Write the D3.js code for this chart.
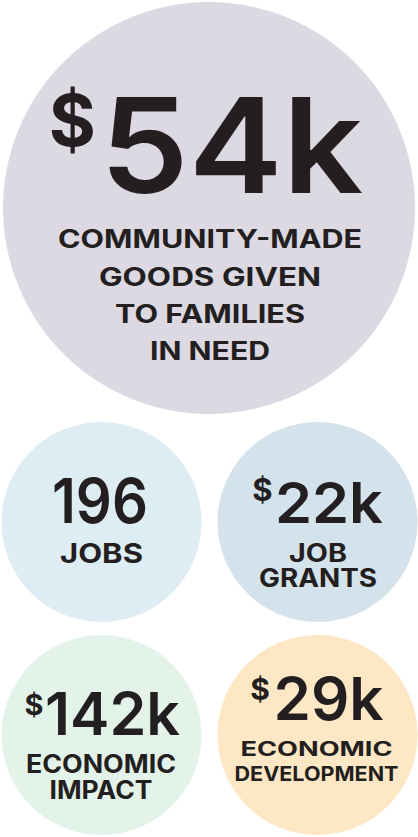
<!DOCTYPE html>
<html>
<head>
<meta charset="utf-8">
<script src="https://cdn.jsdelivr.net/npm/d3@7"></script>
<style>
  html, body { margin: 0; padding: 0; background: #fff; }
  svg text { font-family: Inter, "Noto Sans", sans-serif; fill: #231f20; }
</style>
</head>
<body>
<div id="chart"></div>
<script>
// Stats
var prefixes = ["$", "", "$", "$", "$"];
var values = [54, 196, 22, 142, 29];
var suffixes = ["k", "", "k", "k", "k"];
var labels = [
  ["COMMUNITY-MADE", "GOODS GIVEN", "TO FAMILIES", "IN NEED"],
  ["JOBS"],
  ["JOB", "GRANTS"],
  ["ECONOMIC", "IMPACT"],
  ["ECONOMIC", "DEVELOPMENT"]
];
var colors = ["#dcd9e3", "#deedf4", "#d4e2ec", "#e4f3ea", "#fde7c4"];

var svgWidth = 418;
var svgHeight = 837;

var svg = d3.select("#chart")
  .append("svg")
  .attr("width", svgWidth)
  .attr("height", svgHeight);

// grid for the four small circles
var col = d3.scalePoint().domain([0, 1]).range([101.5, 317.5]);
var row = d3.scalePoint().domain([0, 1]).range([522, 735]);

// layout per circle (relative to centre): number box, $ sign, label lines
var layout = [
  { cx: 209, cy: 208, r: 206,
    num: { x0: -109, x1: 154, y: -15, size: 132 },
    cur: { x: -113, y: -62, size: 72 },
    lab: { size: 25, dx: 1, ys: [40, 78, 115, 152], w: [304, 222, 190, 120] } },
  { cx: col(0), cy: row(0), r: 100,
    num: { x0: -49.5, x1: 46.5, y: 1, size: 62 },
    cur: null,
    lab: { size: 27, dx: 0, ys: [41], w: [83] } },
  { cx: col(1), cy: row(0), r: 100,
    num: { x0: -42.5, x1: 65.5, y: 1, size: 56 },
    cur: { x: -45, y: -21, size: 31 },
    lab: { size: 25, dx: 0.5, ys: [40, 65], w: [58, 118] } },
  { cx: col(0), cy: row(1), r: 100,
    num: { x0: -56.5, x1: 78.5, y: 0, size: 59 },
    cur: { x: -58, y: -20, size: 29 },
    lab: { size: 25, dx: -0.5, ys: [38, 64], w: [150, 103] } },
  { cx: col(1), cy: row(1), r: 100,
    num: { x0: -44, x1: 66, y: -15, size: 59 },
    cur: { x: -47.5, y: -35, size: 30 },
    lab: { size: 19.5, dx: -1, ys: [21, 46], w: [152, 164] } }
];

var stats = values.map(function(v, i) {
  return { value: v, prefix: prefixes[i], suffix: suffixes[i], label: labels[i], color: colors[i], pos: layout[i] };
});

var groups = svg.selectAll("g.stat")
  .data(stats)
  .enter()
  .append("g")
  .attr("class", "stat")
  .attr("transform", d => `translate(${d.pos.cx}, ${d.pos.cy})`);

groups.append("circle")
  .attr("r", d => d.pos.r)
  .attr("fill", d => d.color);

// big number
groups.append("text")
  .attr("x", d => d.pos.num.x0)
  .attr("y", d => d.pos.num.y)
  .attr("font-size", d => d.pos.num.size)
  .attr("font-weight", 600)
  .attr("textLength", d => d.pos.num.x1 - d.pos.num.x0)
  .attr("lengthAdjust", "spacingAndGlyphs")
  .text(d => d.value + d.suffix);

// superscript dollar sign
groups.filter(d => d.prefix && d.pos.cur)
  .append("text")
  .attr("x", d => d.pos.cur.x)
  .attr("y", d => d.pos.cur.y)
  .attr("text-anchor", "end")
  .attr("font-size", d => d.pos.cur.size)
  .attr("font-weight", 700)
  .text(d => d.prefix);

// label lines
groups.each(function(d) {
  d3.select(this).selectAll("text.label")
    .data(d.label)
    .enter()
    .append("text")
    .attr("class", "label")
    .attr("x", (t, i) => d.pos.lab.dx - d.pos.lab.w[i] / 2)
    .attr("y", (t, i) => d.pos.lab.ys[i])
    .attr("font-size", d.pos.lab.size)
    .attr("font-weight", 700)
    .attr("textLength", (t, i) => d.pos.lab.w[i])
    .attr("lengthAdjust", "spacingAndGlyphs")
    .text(t => t);
});
</script>
</body>
</html>
